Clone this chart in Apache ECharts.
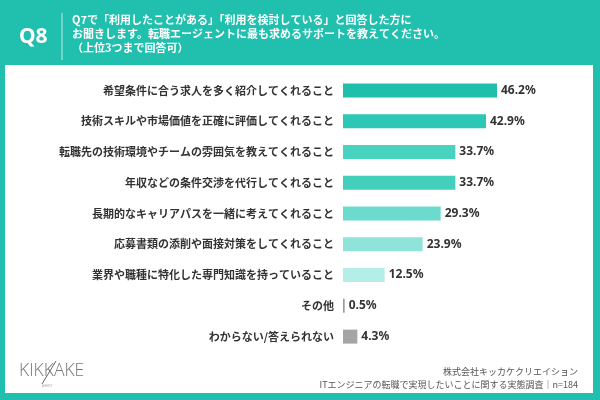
<!DOCTYPE html>
<html><head><meta charset="utf-8">
<script src="https://cdn.jsdelivr.net/npm/echarts@6/dist/echarts.min.js"></script>
<style>html,body{margin:0;padding:0;background:#21bfae;}#c{width:600px;height:400px;}</style>
</head><body><div id="c"></div>
<script>
const categories = [
  "希望条件に合う求人を多く紹介してくれること",
  "技術スキルや市場価値を正確に評価してくれること",
  "転職先の技術環境やチームの雰囲気を教えてくれること",
  "年収などの条件交渉を代行してくれること",
  "長期的なキャリアパスを一緒に考えてくれること",
  "応募書類の添削や面接対策をしてくれること",
  "業界や職種に特化した専門知識を持っていること",
  "その他",
  "わからない/答えられない"
];
const values = [46.2, 42.9, 33.7, 33.7, 29.3, 23.9, 12.5, 0.5, 4.3];
const barColors = ["#1fbfac", "#2cc7b5", "#47d3c0", "#42d0bd", "#6cdacd", "#8fe3d9", "#b4eee6", "#9a9a9a", "#a5a5a5"];
const titleLines = [
  "Q7で「利用したことがある」「利用を検討している」と回答した方に",
  "お聞きします。転職エージェントに最も求めるサポートを教えてください。",
  "（上位3つまで回答可）"
];
const footerLines = ["株式会社キッカケクリエイション", "ITエンジニアの転職で実現したいことに関する実態調査｜n=184"];

const FONT = '"Noto Sans CJK JP", "Noto Sans", sans-serif';
const chart = echarts.init(document.getElementById('c'), null, {renderer: 'canvas'});
chart.setOption({
  animation: false,
  backgroundColor: '#21bfae',
  graphic: [
    {type: 'rect', shape: {x: 5, y: 65, width: 588, height: 328}, style: {fill: '#ffffff'}, z: -10},
    {type: 'text', left: 19, top: 27, style: {text: 'Q8', fill: '#ffffff', font: 'bold 21px "Noto Sans", sans-serif'}},
    {type: 'line', shape: {x1: 62, y1: 13, x2: 62, y2: 60}, style: {stroke: 'rgba(255,255,255,0.7)', lineWidth: 1}},
    {type: 'text', left: 72, top: 14, style: {text: titleLines[0], fill: '#ffffff', font: 'bold 11px ' + FONT}},
    {type: 'text', left: 72, top: 28, style: {text: titleLines[1], fill: '#ffffff', font: 'bold 11px ' + FONT}},
    {type: 'text', left: 72, top: 42, style: {text: titleLines[2], fill: '#ffffff', font: 'bold 11px ' + FONT}},
    {type: 'text', left: 19, top: 362, style: {text: 'KIKKAKE', fill: '#777777', font: '300 17.5px "Open Sans", sans-serif'}},
    {type: 'line', shape: {x1: 42, y1: 384, x2: 56, y2: 361}, style: {stroke: '#666666', lineWidth: 1}},
    {type: 'text', left: 42, top: 385, style: {text: 'AGENT', fill: '#aaaaaa', font: '3px sans-serif'}},
    {type: 'text', right: 22, top: 367, style: {text: footerLines[0], fill: '#555555', font: '9px ' + FONT, align: 'right'}},
    {type: 'text', right: 22, top: 380, style: {text: footerLines[1], fill: '#555555', font: '9px ' + FONT, align: 'right'}}
  ],
  grid: {left: 343, right: 57, top: 75, height: 277, containLabel: false},
  xAxis: {type: 'value', min: 0, max: 60, show: false},
  yAxis: {
    type: 'category', data: categories, inverse: true,
    axisLine: {show: false}, axisTick: {show: false},
    axisLabel: {color: '#333333', fontSize: 11, fontWeight: 'bold', fontFamily: FONT, margin: 9}
  },
  series: [{
    type: 'bar',
    barWidth: 14,
    data: values.map((v, i) => ({value: v, itemStyle: {color: barColors[i]}})),
    label: {show: true, position: 'right', distance: 4, formatter: p => p.value + '%', color: '#333333', fontSize: 12, fontWeight: 'bold', fontFamily: '"Noto Sans", sans-serif'}
  }]
});
</script></body></html>
